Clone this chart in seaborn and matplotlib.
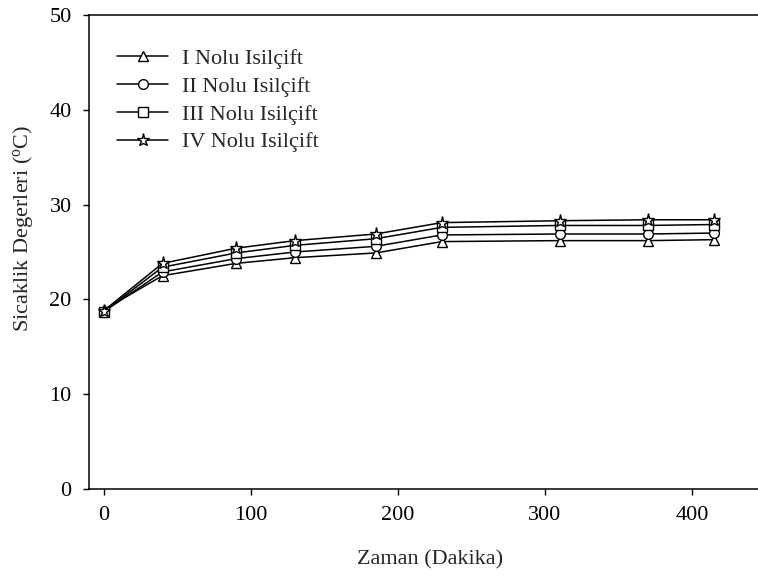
import matplotlib
matplotlib.use("Agg")
import matplotlib.pyplot as plt
import seaborn as sns
import pandas as pd

# Measurement times (minutes)
zaman = [0, 40, 90, 130, 185, 230, 310, 370, 415]

# Thermocouple readings (°C)
isilcift_1 = [18.9, 22.5, 23.8, 24.4, 24.9, 26.1, 26.2, 26.2, 26.3]
isilcift_2 = [18.7, 22.9, 24.3, 25.0, 25.6, 26.8, 26.9, 26.9, 27.0]
isilcift_3 = [18.7, 23.4, 24.9, 25.7, 26.4, 27.6, 27.8, 27.8, 27.9]
isilcift_4 = [18.8, 23.8, 25.4, 26.2, 26.9, 28.1, 28.3, 28.4, 28.4]

seri_adlari = ["I Nolu Isilçift", "II Nolu Isilçift", "III Nolu Isilçift", "IV Nolu Isilçift"]
seriler = [isilcift_1, isilcift_2, isilcift_3, isilcift_4]

df = pd.DataFrame({
    "Zaman": zaman * 4,
    "Sicaklik": [v for s in seriler for v in s],
    "Seri": [ad for ad in seri_adlari for _ in zaman],
})

sns.set_style("ticks")
plt.rcParams["font.family"] = ["Liberation Serif", "DejaVu Serif"]
plt.rcParams["mathtext.fontset"] = "custom"
plt.rcParams["mathtext.rm"] = "Liberation Serif"

FS = 16

fig = plt.figure(figsize=(7.58, 5.77), dpi=100)
ax = fig.add_axes([0.1174, 0.1525, 0.8826, 0.8215])

isaretler = {seri_adlari[0]: "^", seri_adlari[1]: "o", seri_adlari[2]: "s", seri_adlari[3]: "*"}
boyutlar = {"^": 7.5, "o": 7, "s": 7, "*": 9.5}

for ad, s in zip(seri_adlari, seriler):
    m = isaretler[ad]
    sns.lineplot(data=df[df["Seri"] == ad], x="Zaman", y="Sicaklik", ax=ax,
                 color="black", linewidth=1.1, marker=m, markersize=boyutlar[m],
                 markerfacecolor="white", markeredgecolor="black", markeredgewidth=1.0,
                 label=ad, legend=False)

ax.set_xlim(-10, 445)
ax.set_ylim(0, 50)
ax.set_xticks([0, 100, 200, 300, 400])
ax.set_yticks([0, 10, 20, 30, 40, 50])
ax.tick_params(axis="both", labelsize=FS, direction="out", length=4.5, width=1,
               colors="black", pad=8)
for side in ["left", "bottom", "top"]:
    ax.spines[side].set_color("black")
    ax.spines[side].set_linewidth(1.1)
ax.spines["right"].set_visible(False)

ax.set_xlabel("Zaman (Dakika)", fontsize=FS)
ax.xaxis.set_label_coords(0.51, -0.13)
ax.set_ylabel("Sicaklik Degerleri ($\\mathregular{^{o}}$C)", fontsize=FS)
ax.yaxis.set_label_coords(-0.08, 0.55)

leg = ax.legend(loc="upper left", bbox_to_anchor=(0.042, 0.93), frameon=False, fontsize=FS,
                handlelength=2.3, handletextpad=0.6, labelspacing=0.33, borderaxespad=0,
                borderpad=0)

fig.savefig("out.png", dpi=100, facecolor="white")
